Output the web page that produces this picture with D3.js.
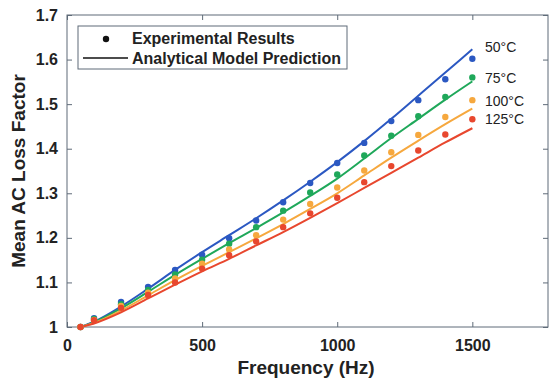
<!DOCTYPE html>
<html>
<head>
<meta charset="utf-8">
<script src="https://cdn.jsdelivr.net/npm/d3@7"></script>
<style>
  body { margin: 0; background: #fff; }
  svg { display: block; font-family: 'Liberation Sans', Arial, sans-serif; }
  .tick text { font-weight: bold; font-size: 16px; fill: #222; }
</style>
</head>
<body>
<svg id="chart" width="550" height="381"></svg>
<script>
// Measurement frequencies (Hz)
const dotFreq = [50, 100, 200, 300, 400, 500, 600, 700, 800, 900, 1000, 1100, 1200, 1300, 1400, 1500];
const lineFreq = [50, 100, 200, 300, 400, 500, 600, 700, 800, 900, 1000, 1100, 1200, 1300, 1400, 1500];

const temps = ['50°C', '75°C', '100°C', '125°C'];
const colors = ['#2b58c2', '#1fa85a', '#f6a83e', '#e8472e'];

// Experimental results (dots)
const exp50 = [1.0, 1.02, 1.056, 1.09, 1.128, 1.162, 1.199, 1.239, 1.28, 1.323, 1.368, 1.413, 1.462, 1.509, 1.556, 1.602];
const exp75 = [1.0, 1.018, 1.051, 1.083, 1.118, 1.151, 1.187, 1.224, 1.261, 1.302, 1.342, 1.385, 1.429, 1.473, 1.516, 1.56];
const exp100 = [1.0, 1.016, 1.047, 1.077, 1.109, 1.142, 1.174, 1.206, 1.241, 1.276, 1.313, 1.351, 1.392, 1.431, 1.471, 1.509];
const exp125 = [1.0, 1.015, 1.043, 1.072, 1.1, 1.131, 1.161, 1.192, 1.224, 1.255, 1.29, 1.325, 1.361, 1.396, 1.432, 1.466];

// Analytical model prediction (lines)
const model50 = [1.0, 1.012, 1.046, 1.086, 1.128, 1.168, 1.206, 1.244, 1.284, 1.326, 1.37, 1.417, 1.467, 1.519, 1.571, 1.623];
const model75 = [1.0, 1.011, 1.042, 1.079, 1.117, 1.153, 1.188, 1.222, 1.257, 1.294, 1.333, 1.378, 1.424, 1.467, 1.51, 1.551];
const model100 = [1.0, 1.009, 1.037, 1.071, 1.105, 1.137, 1.168, 1.199, 1.231, 1.265, 1.3, 1.34, 1.38, 1.418, 1.455, 1.49];
const model125 = [1.0, 1.008, 1.033, 1.064, 1.095, 1.125, 1.153, 1.183, 1.213, 1.245, 1.278, 1.312, 1.346, 1.38, 1.414, 1.446];

const expSeries = [exp50, exp75, exp100, exp125];
const modelSeries = [model50, model75, model100, model125];

const xTicks = [0, 500, 1000, 1500];
const yTicks = [1, 1.1, 1.2, 1.3, 1.4, 1.5, 1.6, 1.7];

const margin = { left: 67, right: 2, top: 15, bottom: 54 };
const W = 550, H = 381;
const svg = d3.select('#chart');

const x = d3.scaleLinear().domain([0, 1780]).range([margin.left, W - margin.right]);
const y = d3.scaleLinear().domain([1, 1.7]).range([H - margin.bottom, margin.top]);

const axisColor = '#5f6b78';

// Box
svg.append('rect')
  .attr('x', x(0)).attr('y', y(1.7))
  .attr('width', x(1780) - x(0)).attr('height', y(1) - y(1.7))
  .attr('fill', 'none').attr('stroke', axisColor).attr('stroke-width', 1);

// Axes (ticks inward)
const xAxis = svg.append('g').attr('transform', `translate(0,${y(1)})`)
  .call(d3.axisBottom(x).tickValues(xTicks).tickSize(-5).tickPadding(13).tickFormat(d3.format('d')));
const xTop = svg.append('g').attr('transform', `translate(0,${y(1.7)})`)
  .call(d3.axisTop(x).tickValues(xTicks).tickSize(-5).tickFormat(''));
const yAxis = svg.append('g').attr('transform', `translate(${x(0)},0)`)
  .call(d3.axisLeft(y).tickValues(yTicks).tickSize(-5).tickPadding(9).tickFormat(d => d === 1 ? '1' : d3.format('.1f')(d)));
const yRight = svg.append('g').attr('transform', `translate(${x(1780)},0)`)
  .call(d3.axisRight(y).tickValues(yTicks).tickSize(-5).tickFormat(''));

[xAxis, xTop, yAxis, yRight].forEach(g => {
  g.select('.domain').remove();
  g.selectAll('.tick line').attr('stroke', axisColor);
});

// Lines
const line = d3.line().x((d, i) => x(lineFreq[i])).y(d => y(d)).curve(d3.curveMonotoneX);
modelSeries.forEach((s, k) => {
  svg.append('path').datum(s)
    .attr('d', line)
    .attr('fill', 'none')
    .attr('stroke', colors[k])
    .attr('stroke-width', 2);
});

// Dots
expSeries.forEach((s, k) => {
  svg.append('g').selectAll('circle').data(s).join('circle')
    .attr('cx', (d, i) => x(dotFreq[i]))
    .attr('cy', d => y(d))
    .attr('r', 3.2)
    .attr('fill', colors[k]);
});

// Temperature labels
const labelY = [52, 83, 106, 124];
temps.forEach((t, k) => {
  svg.append('text')
    .attr('x', 485).attr('y', labelY[k])
    .attr('font-size', 14)
    .attr('fill', '#222')
    .text(t);
});

// Legend
const lg = svg.append('g');
lg.append('rect').attr('x', 78).attr('y', 26).attr('width', 269).attr('height', 43)
  .attr('fill', '#fff').attr('stroke', axisColor).attr('stroke-width', 1);
lg.append('circle').attr('cx', 106).attr('cy', 39).attr('r', 3.2).attr('fill', '#111');
lg.append('line').attr('x1', 83).attr('x2', 128).attr('y1', 58).attr('y2', 58)
  .attr('stroke', '#111').attr('stroke-width', 1.5);
lg.append('text').attr('x', 132).attr('y', 44).attr('font-size', 16).attr('font-weight', 'bold')
  .attr('fill', '#222').text('Experimental Results');
lg.append('text').attr('x', 132).attr('y', 64).attr('font-size', 16).attr('font-weight', 'bold')
  .attr('fill', '#222').text('Analytical Model Prediction');

// Axis titles
svg.append('text')
  .attr('x', 306).attr('y', 374)
  .attr('text-anchor', 'middle')
  .attr('font-size', 19).attr('font-weight', 'bold').attr('fill', '#222')
  .text('Frequency (Hz)');
svg.append('text')
  .attr('transform', `translate(25,${(y(1) + y(1.7)) / 2}) rotate(-90)`)
  .attr('text-anchor', 'middle')
  .attr('font-size', 19).attr('font-weight', 'bold').attr('fill', '#222')
  .text('Mean AC Loss Factor');
</script>
</body>
</html>
